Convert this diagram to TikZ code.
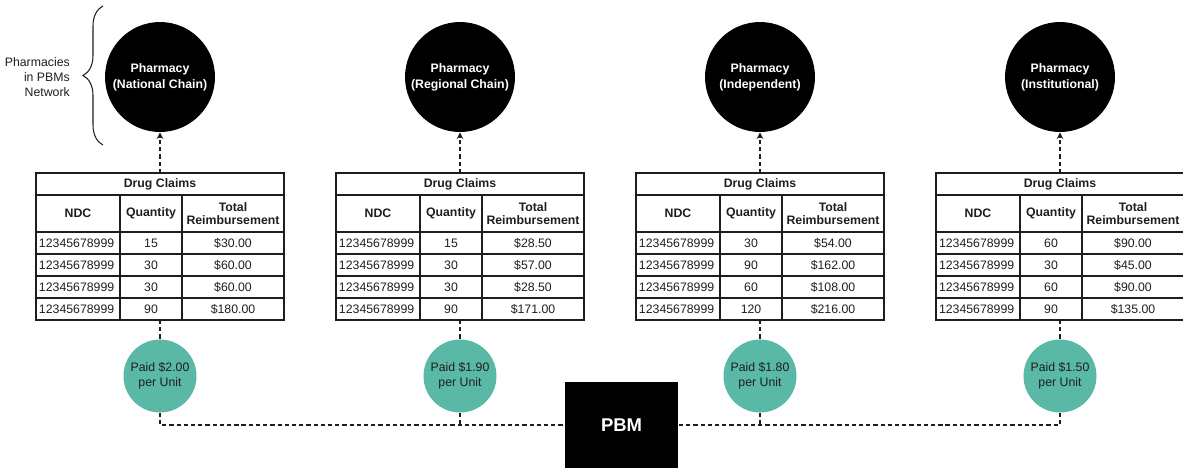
\documentclass[tikz,border=0pt]{standalone}
\usepackage{fontspec}
\setmainfont{Liberation Sans}
\usetikzlibrary{decorations.pathreplacing}
\definecolor{paidteal}{HTML}{5AB9A6}
\definecolor{inkgray}{HTML}{1E1E1E}

% one claims table: #1 name, #2 centre x, #3 rows quantity/amount
\newcommand*{\claimtable}[3]{%
  \begin{scope}[shift={(#2,0)}]
    \draw[grid] (-124,173) rectangle (124,320);
    \draw[grid] (-124,195) -- (124,195);
    \foreach \y in {232,254,276,298}
      \draw[grid] (-124,\y) -- (124,\y);
    \draw[grid] (-40,195) -- (-40,320) (22,195) -- (22,320);
    \node[cellbold] (#1-title) at (0,184) {Drug Claims};
    \node[cellbold] (#1-ndc) at (-82,213.5) {NDC};
    \node[cellbold] (#1-qty) at (-9,213.5) {Quantity};
    \node[cellbold,font=\bfseries\fontsize{7}{7.8}\selectfont] (#1-amt) at (73,213.5) {Total\\Reimbursement};
    \foreach \q/\amt [count=\i] in {#3} {
      \node[cell,anchor=west] (#1-r\i a) at (-124,221+22*\i) {12345678999};
      \node[cell] (#1-r\i b) at (-9,221+22*\i) {\q};
      \node[cell] (#1-r\i c) at (73,221+22*\i) {\amt};
    }
    \coordinate (#1-top) at (0,173);
    \coordinate (#1-bot) at (0,320);
  \end{scope}}

\begin{document}
\begin{tikzpicture}[x=0.02cm,y=-0.02cm,>=stealth,
    every node/.style={font=\fontsize{7}{8.5}\selectfont,text=inkgray,align=center},
    grid/.style={draw=inkgray,line width=0.6pt},
    cell/.style={inner sep=1.5pt},
    cellbold/.style={inner sep=1pt,font=\bfseries\fontsize{7}{8.5}\selectfont},
    pharm/.style={circle,fill=black,minimum size=2.2cm,inner sep=0pt,text=white,
      font=\bfseries\fontsize{7}{9.2}\selectfont},
    paid/.style={circle,fill=paidteal,minimum size=1.46cm,inner sep=0pt},
    pbmbox/.style={rectangle,fill=black,minimum width=2.26cm,minimum height=1.72cm,
      text=white,font=\bfseries\fontsize{10.5}{12}\selectfont},
    link/.style={draw=inkgray,line width=0.7pt,dash pattern=on 2.4pt off 1.7pt}]
  \useasboundingbox (0,0) rectangle (1183,468);

  % network brace
  \node[anchor=east,align=right] (netnote) at (76,77) {Pharmacies\\in PBMs\\Network};
  \coordinate (brlow) at (103,145);
  \coordinate (brhigh) at (103,6);
  \draw[inkgray,line width=0.6pt,decorate,decoration={brace,amplitude=0.4cm}] (brlow) -- (brhigh);

  % pharmacies
  \node[pharm] (ph1) at (160,77) {Pharmacy\\(National Chain)};
  \node[pharm] (ph2) at (460,77) {Pharmacy\\(Regional Chain)};
  \node[pharm] (ph3) at (760,77) {Pharmacy\\(Independent)};
  \node[pharm] (ph4) at (1060,77) {Pharmacy\\(Institutional)};

  % claims
  \claimtable{t1}{160}{15/\$30.00,30/\$60.00,30/\$60.00,90/\$180.00}
  \claimtable{t2}{460}{15/\$28.50,30/\$57.00,30/\$28.50,90/\$171.00}
  \claimtable{t3}{760}{30/\$54.00,90/\$162.00,60/\$108.00,120/\$216.00}
  \claimtable{t4}{1060}{60/\$90.00,30/\$45.00,60/\$90.00,90/\$135.00}

  % unit prices
  \node[paid] (pay1) at (160,376) {Paid \$2.00\\per Unit};
  \node[paid] (pay2) at (460,376) {Paid \$1.90\\per Unit};
  \node[paid] (pay3) at (760,376) {Paid \$1.80\\per Unit};
  \node[paid] (pay4) at (1060,376) {Paid \$1.50\\per Unit};

  \node[pbmbox] (pbm) at (621.5,425) {PBM};

  \draw[link,->] (t1-top) -- (ph1);
  \draw[link,->] (t2-top) -- (ph2);
  \draw[link,->] (t3-top) -- (ph3);
  \draw[link,->] (t4-top) -- (ph4);
  \draw[link] (t1-bot) -- (pay1);
  \draw[link] (t2-bot) -- (pay2);
  \draw[link] (t3-bot) -- (pay3);
  \draw[link] (t4-bot) -- (pay4);
  \draw[link] (pay1) |- (pbm);
  \draw[link] (pay2) -- (pay2 |- pbm);
  \draw[link] (pay4) |- (pbm);
  \draw[link] (pay3) -- (pay3 |- pbm);
\end{tikzpicture}
\end{document}
